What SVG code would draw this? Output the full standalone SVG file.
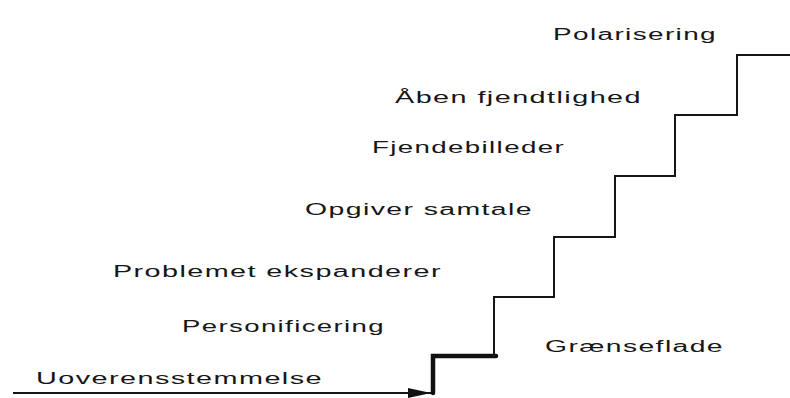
<svg xmlns="http://www.w3.org/2000/svg" width="790" height="398" viewBox="0 0 790 398">
  <style>
    .lbl { font-family: "Liberation Sans", Arial, sans-serif; font-size: 16px; fill: #161616; letter-spacing: 0.8px; }
    .line { fill: none; stroke: #161616; stroke-width: 2; stroke-linejoin: miter; stroke-linecap: butt; }
    .thick { fill: none; stroke: #111; stroke-width: 4.5; stroke-linejoin: miter; stroke-linecap: round; }
  </style>
  <defs>
    <marker id="arrow" markerUnits="userSpaceOnUse" markerWidth="24" markerHeight="12" refX="23" refY="6" orient="auto">
      <path d="M0,1 L23,6 L0,11 Z" fill="#111"/>
    </marker>
  </defs>
  <rect width="790" height="398" fill="#ffffff"/>
  <g id="connectors">
    <path class="line" d="M13,393 H431" marker-end="url(#arrow)"/>
    <path class="thick" d="M433,393 V356 H496"/>
    <path class="line" d="M494,356 V297 H554 V237 H615 V176 H675 V115 H737 V55 H790"/>
  </g>
  <g id="polarisering"><text class="lbl" x="553" y="40" textLength="164" lengthAdjust="spacingAndGlyphs">Polarisering</text></g>
  <g id="aaben-fjendtlighed"><text class="lbl" x="395" y="103" textLength="247" lengthAdjust="spacingAndGlyphs">Åben fjendtlighed</text></g>
  <g id="fjendebilleder"><text class="lbl" x="372" y="153" textLength="193" lengthAdjust="spacingAndGlyphs">Fjendebilleder</text></g>
  <g id="opgiver-samtale"><text class="lbl" x="305" y="215" textLength="228" lengthAdjust="spacingAndGlyphs">Opgiver samtale</text></g>
  <g id="problemet-ekspanderer"><text class="lbl" x="113" y="277" textLength="329" lengthAdjust="spacingAndGlyphs">Problemet ekspanderer</text></g>
  <g id="personificering"><text class="lbl" x="182" y="332" textLength="203" lengthAdjust="spacingAndGlyphs">Personificering</text></g>
  <g id="graenseflade"><text class="lbl" x="545" y="352" textLength="179" lengthAdjust="spacingAndGlyphs">Grænseflade</text></g>
  <g id="uoverensstemmelse"><text class="lbl" x="36" y="384" textLength="287" lengthAdjust="spacingAndGlyphs">Uoverensstemmelse</text></g>
</svg>
